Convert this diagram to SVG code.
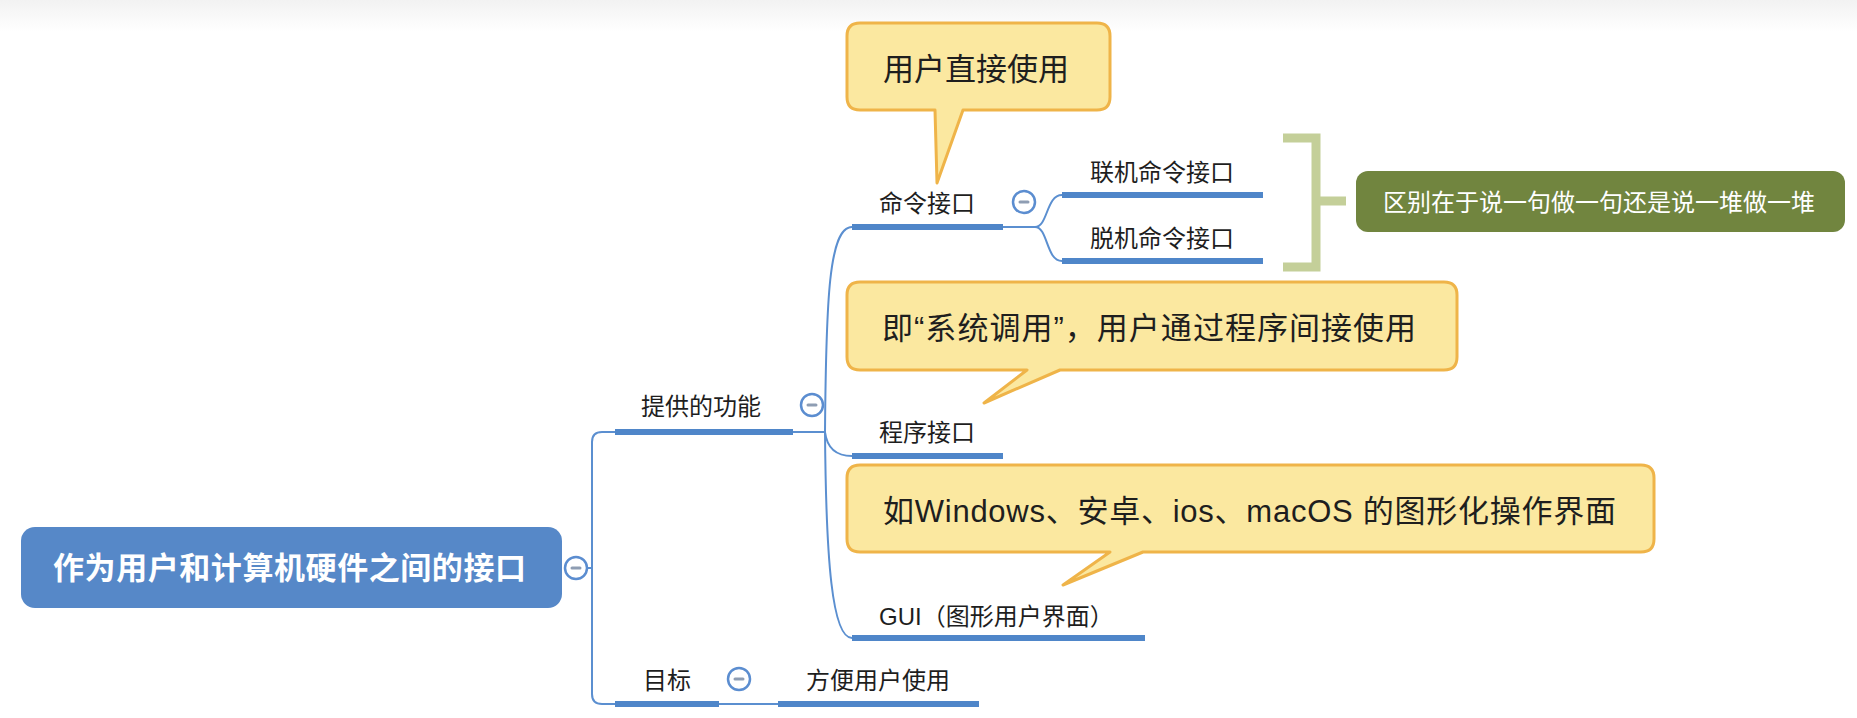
<svg xmlns="http://www.w3.org/2000/svg" width="1857" height="718" viewBox="0 0 1857 718">
<defs>
<linearGradient id="topbar" x1="0" y1="0" x2="0" y2="1">
<stop offset="0" stop-color="#f2f2f2"/>
<stop offset="1" stop-color="#ffffff"/>
</linearGradient>
</defs>
<style>
.t{font-family:"Liberation Sans","Noto Sans CJK SC",sans-serif;dominant-baseline:central;fill:#1e1e1e;}
.lbl{font-size:24px;}
.call{font-size:31px;}
.thick{fill:none;stroke:#4f86c9;stroke-width:6;}
.thin{fill:none;stroke:#5b8fd0;stroke-width:2;}
.callout{fill:#fbe8a0;stroke:#efb449;stroke-width:3;stroke-linejoin:round;}
.fold circle{fill:#ffffff;stroke:#5b8dd0;stroke-width:2.5;}
.fold line{stroke:#8e9db3;stroke-width:3;stroke-linecap:round;}
</style>
<rect x="0" y="0" width="1857" height="718" fill="#ffffff"/>
<rect x="0" y="0" width="1857" height="32" fill="url(#topbar)"/>

<g id="connectors">
<path class="thin" d="M588 568 H592"/>
<path class="thin" d="M615 432 H602 Q592 432 592 442 V694 Q592 704 602 704 H615"/>
<path class="thin" d="M793 432 H825"/>
<path class="thin" d="M825 432 C826 300 829 227 852 227"/>
<path class="thin" d="M825 432 Q828 456 852 456"/>
<path class="thin" d="M825 432 C826 560 832 638 852 638"/>
<path class="thin" d="M1003 227 H1035"/>
<path class="thin" d="M1035 227 C1048 227 1046 195 1062 195"/>
<path class="thin" d="M1035 227 C1048 227 1046 261 1062 261"/>
<path class="thin" d="M719 704 H778"/>
<path fill="none" stroke="#c4cf99" stroke-width="9" d="M1283 138 H1316 V267 H1283 M1316 201 H1346"/>
</g>

<g id="root">
<rect x="21" y="527" width="541" height="81" rx="14" fill="#5688c8"/>
<text class="t" x="53" y="568" textLength="473" lengthAdjust="spacing" font-size="31" font-weight="bold" style="fill:#ffffff">作为用户和计算机硬件之间的接口</text>
</g>
<g id="fold-root" class="fold"><circle cx="576" cy="568" r="11"/><line x1="572" y1="568" x2="580" y2="568"/></g>

<g id="n-functions">
<path class="thick" d="M615 432 H793"/>
<text class="t lbl" x="641" y="406">提供的功能</text>
</g>
<g id="fold-functions" class="fold"><circle cx="812" cy="405" r="11"/><line x1="808" y1="405" x2="816" y2="405"/></g>

<g id="n-cmd">
<path class="thick" d="M852 227 H1003"/>
<text class="t lbl" x="879" y="203">命令接口</text>
</g>
<g id="fold-cmd" class="fold"><circle cx="1024" cy="202" r="11"/><line x1="1020" y1="202" x2="1028" y2="202"/></g>

<g id="n-online">
<path class="thick" d="M1062 195 H1263"/>
<text class="t lbl" x="1090" y="172">联机命令接口</text>
</g>
<g id="n-offline">
<path class="thick" d="M1062 261 H1263"/>
<text class="t lbl" x="1090" y="238">脱机命令接口</text>
</g>

<g id="n-summary">
<rect x="1356" y="171" width="489" height="61" rx="12" fill="#71853f"/>
<text class="t" x="1383" y="202" font-size="24" style="fill:#ffffff">区别在于说一句做一句还是说一堆做一堆</text>
</g>

<g id="n-prog">
<path class="thick" d="M852 456 H1003"/>
<text class="t lbl" x="879" y="432">程序接口</text>
</g>

<g id="n-gui">
<path class="thick" d="M852 638 H1145"/>
<text class="t lbl" x="879" y="616">GUI（图形用户界面）</text>
</g>

<g id="n-goal">
<path class="thick" d="M615 704 H719"/>
<text class="t lbl" x="643" y="680">目标</text>
</g>
<g id="fold-goal" class="fold"><circle cx="739" cy="679" r="11"/><line x1="735" y1="679" x2="743" y2="679"/></g>

<g id="n-easy">
<path class="thick" d="M778 704 H979"/>
<text class="t lbl" x="806" y="680">方便用户使用</text>
</g>

<g id="callout-cmd">
<path class="callout" d="M860 23 H1097 Q1110 23 1110 36 V97 Q1110 110 1097 110 H963 L937 183 L935 110 H860 Q847 110 847 97 V36 Q847 23 860 23 Z"/>
<text class="t call" x="883" y="69">用户直接使用</text>
</g>

<g id="callout-prog">
<path class="callout" d="M860 282 H1444 Q1457 282 1457 295 V357 Q1457 370 1444 370 H1060 L984 403 L1027 370 H860 Q847 370 847 357 V295 Q847 282 860 282 Z"/>
<text class="t call" x="882" y="328" textLength="534" lengthAdjust="spacing">即“系统调用”，用户通过程序间接使用</text>
</g>

<g id="callout-gui">
<path class="callout" d="M860 465 H1641 Q1654 465 1654 478 V539 Q1654 552 1641 552 H1143 L1063 585 L1110 552 H860 Q847 552 847 539 V478 Q847 465 860 465 Z"/>
<text class="t call" x="883" y="511" textLength="733" lengthAdjust="spacing">如Windows、安卓、ios、macOS 的图形化操作界面</text>
</g>
</svg>
